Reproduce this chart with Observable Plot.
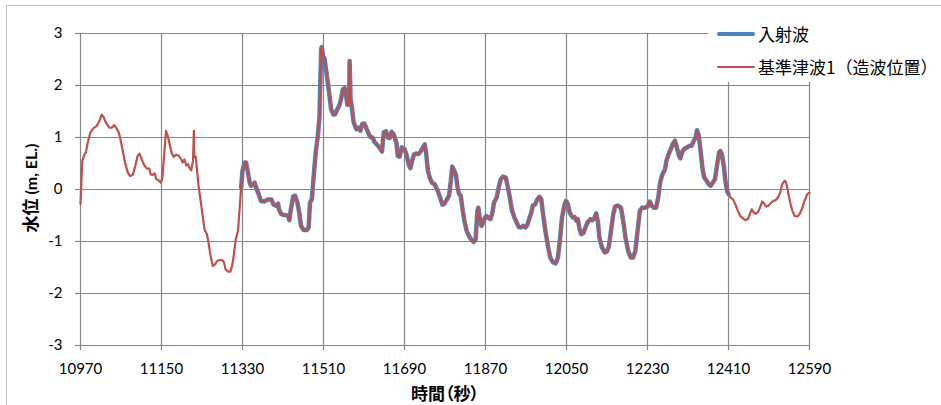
<!DOCTYPE html>
<html>
<head>
<meta charset="utf-8">
<script src="https://cdn.jsdelivr.net/npm/d3@7"></script>
<script src="https://cdn.jsdelivr.net/npm/@observablehq/plot@0.6"></script>
<style>
  html, body { margin: 0; padding: 0; background: #fff; }
  #wrap { position: relative; width: 941px; height: 405px; overflow: hidden; font-family: "Lato", "Noto Sans CJK JP", sans-serif; }
  #frame { position: absolute; left: 6px; top: 5px; width: 960px; height: 420px; border: 1px solid #c4c4c4; box-sizing: border-box; }
  #chart { position: absolute; left: 0; top: 0; }
  #legend { position: absolute; left: 708px; top: 22px; width: 233px; height: 60px; background: #fff; }
  .lg { position: absolute; left: 9px; width: 38px; }
  .lgt { position: absolute; left: 50px; font-size: 17px; line-height: 20px; color: #000; font-family: "Noto Sans CJK JP", sans-serif; white-space: nowrap; }
  #ytitle { position: absolute; left: 30px; top: 188px; transform: translate(-50%, -50%) rotate(-90deg); white-space: nowrap; font-weight: bold; color: #000; font-family: "Lato", sans-serif; font-size: 16px; line-height: 20px; }
  #ytitle .cjk { font-family: "Noto Sans CJK JP", sans-serif; font-size: 17px; }
  #xtitle { position: absolute; left: 445px; top: 392px; transform: translate(-50%, -50%); white-space: nowrap; font-weight: bold; font-size: 17px; font-family: "Noto Sans CJK JP", sans-serif; font-feature-settings: "palt"; color: #000; }
</style>
</head>
<body>
<div id="wrap">
  <div id="frame"></div>
  <div id="chart"></div>
  <div id="legend"></div>
  <div id="ytitle"><span class="cjk">水位</span> (m, EL.)</div>
  <div id="xtitle">時間（秒）</div>
</div>
<script>
// Time (s) and water level (m, EL.)
const timeSec = [
  10970,10974,10979,10982,10986,10992,10999,11006,11012,11017,11021,11026,11034,11040,11045,11049,11055,11058,11063,11069,
  11075,11080,11086,11092,11097,11101,11106,11112,11118,11123,11126,11130,11135,11138,11143,11149,11152,11160,
  11164,11168,11173,11177,11183,11188,11194,11197,11201,11205,11209,11212,11216,11220,11222,11223,11226,11229,11232,11237,
  11242,11246,11251,11255,11259,11264,11269,11274,11279,11285,11289,11292,11298,11303,11307,11311,11315,11320,11323,11327,
  11330,11335,11338,11342,11346,11349,11353,11357,11360,
  11366,11371,11379,11386,11394,11399,11404,11409,11411,11416,11421,11426,11431,11434,11438,11443,11447,11452,11456,11460,
  11466,11473,11477,11480,11484,11488,11493,11497,11501,11503,11505,11506,11509,11512,11517,11523,11527,11532,11536,11540,
  11545,11549,11553,11557,11560,11563,11567,11568,
  11570,11573,11577,11583,11588,11592,11596,11601,11606,11611,11614,11619,11623,11629,11634,11640,11644,11649,11653,11657,
  11661,11666,11672,11675,11679,11684,11690,11695,11700,11703,11707,11711,11716,11721,11726,11731,11735,11738,11742,11746,
  11751,11757,11763,
  11769,11774,11778,11783,11789,11793,11796,11800,11804,11808,11811,11815,11819,11823,11828,11833,11839,11844,11848,11852,
  11854,11857,11861,11865,11869,11872,11876,11881,11885,11889,11895,11900,11904,11909,11915,11919,11924,11929,11934,11939,
  11944,11949,11954,11959,11963,
  11968,11972,11975,11980,11985,11990,11994,11997,12003,12009,12014,12020,12026,12031,12036,12040,12046,12049,12053,12057,
  12060,12064,12068,12072,12075,12079,12083,12088,12092,12097,12103,12107,12111,12116,12120,12123,12129,12135,12140,12144,
  12149,12154,12158,12164,
  12171,12176,12181,12187,12193,12198,12203,12208,12213,12218,12224,12230,12235,12239,12244,12249,12254,12258,12263,12269,
  12272,12277,12282,12286,12291,12295,12300,12303,12308,12313,12318,12323,12328,12332,12337,12340,12344,12348,12352,12356,
  12361,12366,
  12370,12375,12380,12385,12389,12392,12396,12400,12403,12407,12410,12414,12420,12425,12431,12436,12442,12447,12453,12458,
  12462,12466,12470,12475,12480,12485,12489,12494,12499,12503,12509,12514,12520,12525,12529,12535,12538,12542,12547,12552,
  12557,12563,12568,12573,12579,12585,12590
];
const refLevel = [
  -0.28,0.55,0.68,0.71,0.90,1.10,1.18,1.22,1.32,1.44,1.40,1.29,1.19,1.19,1.24,1.19,1.10,1.00,0.78,0.52,
  0.33,0.26,0.28,0.46,0.65,0.69,0.58,0.46,0.40,0.40,0.29,0.28,0.31,0.20,0.18,0.13,0.23,1.13,
  1.03,0.87,0.69,0.63,0.67,0.65,0.58,0.52,0.58,0.46,0.49,0.42,0.37,0.55,1.13,0.62,0.63,0.36,0.10,-0.22,
  -0.54,-0.78,-0.86,-1.05,-1.28,-1.47,-1.44,-1.37,-1.36,-1.36,-1.40,-1.53,-1.58,-1.58,-1.47,-1.24,-0.96,-0.79,-0.44,0.04,
  0.36,0.52,0.52,0.33,0.13,0.07,0.09,0.13,0.04,
  -0.09,-0.22,-0.23,-0.19,-0.19,-0.29,-0.31,-0.27,-0.38,-0.47,-0.49,-0.49,-0.51,-0.59,-0.35,-0.13,-0.12,-0.25,-0.44,-0.70,
  -0.78,-0.78,-0.73,-0.25,-0.19,0.23,0.74,1.00,1.38,2.09,2.70,2.74,2.57,2.53,2.22,1.83,1.54,1.44,1.45,1.53,
  1.61,1.74,1.93,1.95,1.83,1.63,1.64,2.47,
  1.77,1.58,1.29,1.16,1.19,1.13,1.26,1.27,1.16,1.06,1.01,1.00,0.92,0.86,0.81,0.73,1.10,1.12,1.00,0.99,
  1.11,1.06,0.90,0.65,0.63,0.81,0.78,0.65,0.46,0.41,0.55,0.67,0.69,0.68,0.73,0.81,0.87,0.71,0.36,0.23,
  0.13,0.10,-0.01,
  -0.15,-0.29,-0.28,-0.21,-0.12,0.17,0.44,0.37,0.29,0.04,-0.08,-0.12,-0.38,-0.60,-0.79,-0.89,-0.97,-1.01,-0.96,-0.41,
  -0.35,-0.54,-0.70,-0.63,-0.54,-0.51,-0.54,-0.57,-0.46,-0.25,-0.15,0.07,0.20,0.25,0.23,0.07,-0.15,-0.41,-0.53,-0.63,
  -0.72,-0.73,-0.70,-0.73,-0.68,
  -0.54,-0.44,-0.31,-0.29,-0.19,-0.14,-0.19,-0.41,-0.79,-1.10,-1.31,-1.40,-1.42,-1.31,-0.92,-0.54,-0.28,-0.22,-0.28,-0.44,
  -0.49,-0.54,-0.53,-0.60,-0.57,-0.76,-0.86,-0.83,-0.73,-0.63,-0.57,-0.59,-0.57,-0.46,-0.63,-0.92,-1.12,-1.21,-1.19,-1.10,
  -0.79,-0.47,-0.33,-0.31,
  -0.35,-0.60,-0.92,-1.18,-1.31,-1.31,-1.18,-0.79,-0.41,-0.35,-0.35,-0.33,-0.23,-0.31,-0.35,-0.35,-0.15,0.13,0.29,0.39,
  0.55,0.68,0.78,0.87,0.94,0.81,0.65,0.60,0.74,0.79,0.81,0.84,0.84,0.92,1.00,1.14,1.03,0.74,0.42,0.23,
  0.17,0.10,
  0.07,0.13,0.20,0.49,0.71,0.74,0.65,0.42,0.17,-0.03,-0.09,-0.15,-0.19,-0.28,-0.41,-0.51,-0.55,-0.59,-0.57,-0.46,
  -0.38,-0.44,-0.47,-0.44,-0.35,-0.23,-0.27,-0.33,-0.31,-0.27,-0.22,-0.21,-0.15,-0.06,0.10,0.17,0.13,-0.03,-0.25,-0.41,
  -0.51,-0.52,-0.47,-0.38,-0.22,-0.09,-0.06
];
// The incident wave (入射波) is recorded over this time window only
const incidentStart = 11327;
const incidentEnd = 12410;

const xTicks = [10970, 11150, 11330, 11510, 11690, 11870, 12050, 12230, 12410, 12590];
const yTicks = [-3, -2, -1, 0, 1, 2, 3];
const seriesNames = ["入射波", "基準津波1（造波位置）"];
const seriesColors = ["#4f81bd", "#c0504d"];

const refData = timeSec.map((t, i) => ({t, v: refLevel[i]}));
const incData = refData.filter(d => d.t >= incidentStart && d.t <= incidentEnd);

const gridColor = "#868686";
const chart = Plot.plot({
  width: 941,
  height: 405,
  marginLeft: 80,
  marginRight: 132,
  marginTop: 33,
  marginBottom: 60,
  x: {domain: [10970, 12590]},
  y: {domain: [-3, 3]},
  style: {fontFamily: "Lato, 'Noto Sans CJK JP', sans-serif", fontSize: "15px", color: "#000", background: "transparent", overflow: "visible"},
  marks: [
    Plot.gridX(xTicks, {stroke: gridColor, strokeOpacity: 1, strokeWidth: 1.2}),
    Plot.gridY(yTicks, {stroke: gridColor, strokeOpacity: 1, strokeWidth: 1.2}),
    Plot.axisX(xTicks, {tickSize: 5, tickPadding: 13, stroke: gridColor, strokeWidth: 1.2, label: null, tickFormat: d => String(d), fill: "#000"}),
    Plot.axisY(yTicks, {tickSize: 5, tickPadding: 13, stroke: gridColor, strokeWidth: 1.2, label: null, tickFormat: d => String(d), fill: "#000"}),
    Plot.line(incData, {x: "t", y: "v", stroke: seriesColors[0], strokeWidth: 4.5, strokeLinejoin: "round", curve: "linear"}),
    Plot.line(refData, {x: "t", y: "v", stroke: seriesColors[1], strokeWidth: 2.2, strokeLinejoin: "round", curve: "linear"})
  ]
});
document.getElementById("chart").appendChild(chart);

// Legend
const legend = document.getElementById("legend");
const rows = [{y: 12, w: 4.5}, {y: 45, w: 2}];
seriesNames.forEach((name, i) => {
  const ln = document.createElement("div");
  ln.className = "lg";
  ln.style.top = (rows[i].y - rows[i].w / 2) + "px";
  ln.style.height = rows[i].w + "px";
  ln.style.background = seriesColors[i];
  ln.style.borderRadius = "2px";
  legend.appendChild(ln);
  const tx = document.createElement("div");
  tx.className = "lgt";
  tx.style.top = (rows[i].y - 10) + "px";
  tx.textContent = name;
  legend.appendChild(tx);
});
</script>
</body>
</html>
